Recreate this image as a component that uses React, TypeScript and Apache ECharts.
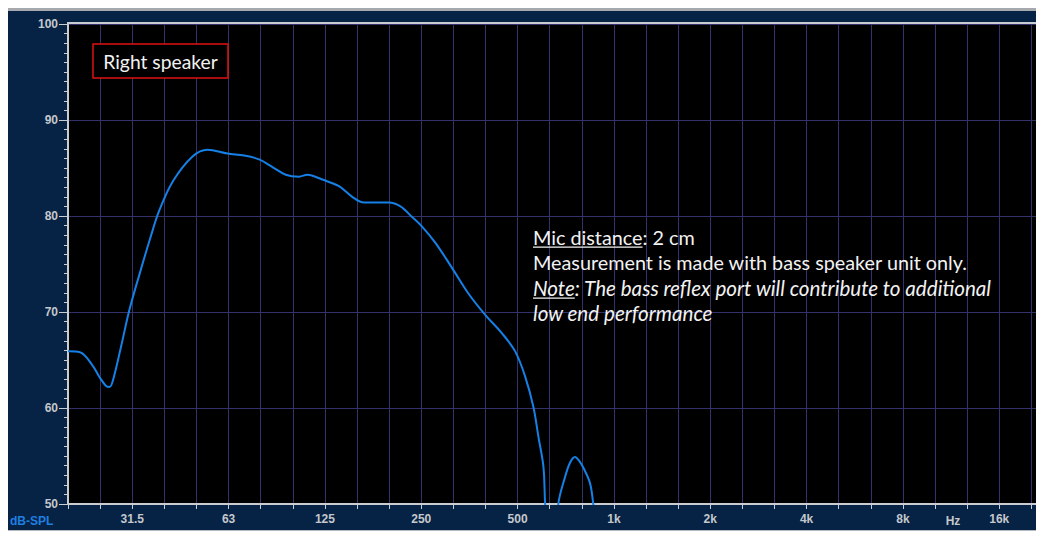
import React, { useEffect, useRef } from "react";
import * as echarts from "echarts";

// Measured frequency response (near-field, bass unit)
const freqHz = [
  20, 21.8, 23.9, 25.1, 26.3, 27.0, 27.6, 29.3, 31.1, 33.5,
  36.0, 38.6, 42.5, 49.0, 54.6, 63.0, 71.1, 79.1, 87.1,
  95.8, 105.5, 111.9, 124.6, 140.5, 154.6, 168.1, 201.1, 218.7, 237.7,
  255.5, 281.3, 316.9, 357.1, 402.5, 453.5, 499.3, 536.3, 569.3, 590.2,
  611.8, 619.2, 634, 657, 666.8, 681, 714.6, 740.8, 767.9, 791.7,
  815, 855, 875.6, 894.6,
];
const splDb = [
  65.9, 65.8, 64.4, 63.2, 62.3, 62.2, 62.8, 66.4, 70.2, 74.0,
  77.5, 80.6, 83.6, 86.2, 86.9, 86.5, 86.3, 85.9, 85.1,
  84.3, 84.1, 84.3, 83.8, 83.1, 82.0, 81.4, 81.4, 81.0, 79.9,
  78.9, 77.2, 74.6, 71.9, 69.7, 67.8, 65.9, 63.3, 60.1, 57.0,
  53.9, 50.1, 45, 40, 44, 50.0, 52.8, 54.3, 54.9, 54.5,
  53.8, 52.2, 50.0, 47,
];

// Octave-band labels, starting at the 31.5 Hz third-octave line
const xTickLabels = ["31.5", "63", "125", "250", "500", "1k", "2k", "4k", "8k", "16k"];
const yMin = 50;
const yMax = 100;
const yStep = 10;
const unitX = "Hz";
const unitY = "dB-SPL";
const speakerName = "Right speaker";
const micLabel = "Mic distance";
const micValue = ": 2 cm";
const infoLine = "Measurement is made with bass speaker unit only.";
const noteLabel = "Note";
const noteRest = ": The bass reflex port will contribute to additional";
const noteLine2 = "low end performance";

const F_REF = 20; // left edge of the frequency axis
const X_MAX_OCT = 10.1;
const toOct = (f: number) => Math.log2(f / F_REF);

const measure = (text: string, font: string) => {
  const ctx = document.createElement("canvas").getContext("2d")!;
  ctx.font = font;
  return ctx.measureText(text).width;
};

export default function App() {
  const ref = useRef<HTMLDivElement>(null);

  useEffect(() => {
    document.body.style.overflow = "hidden";
    const chart = echarts.init(ref.current!, null, { renderer: "svg" });

    const axisGray = "#c9ccd0";
    const gridColor = "#34326a";
    const labelColor = "#c4c8cc";
    const textColor = "#f2f2f2";
    const fam = "Lato";
    const fontN = `19.8px ${fam}`;
    const fontI = `italic 20.6px ${fam}`;
    const micW = measure(micLabel, fontN);
    const noteW = measure(noteLabel, fontI);

    const tx = 525;
    const lineY = [229, 254, 280, 305];

    const textEl = (x: number, y: number, text: string, font: string, align = "left") => ({
      type: "text",
      x,
      y,
      z: 10,
      style: {
        text,
        fill: textColor,
        font,
        align,
        textAlign: align,
        verticalAlign: "middle",
        textVerticalAlign: "middle",
      },
    });

    const option: any = {
      animation: false,
      backgroundColor: "#062244",
      grid: {
        left: 60,
        top: 16,
        right: 0,
        bottom: 27,
        show: true,
        backgroundColor: "#000000",
        borderWidth: 0,
      },
      xAxis: {
        type: "value",
        min: 0,
        max: X_MAX_OCT,
        interval: 1 / 3,
        axisLine: { show: true, lineStyle: { color: axisGray, width: 2 } },
        axisTick: { show: true, length: 5, lineStyle: { color: axisGray, width: 1 } },
        axisLabel: {
          color: labelColor,
          fontFamily: "Liberation Sans",
          fontWeight: "bold",
          fontSize: 12,
          margin: 9,
          formatter: (v: number) => {
            const k = Math.round(v * 3);
            if (Math.abs(v * 3 - k) > 1e-6) return "";
            const i = (k - 2) / 3;
            return Number.isInteger(i) && i >= 0 && i < xTickLabels.length ? xTickLabels[i] : "";
          },
        },
        splitLine: { show: true, lineStyle: { color: gridColor, width: 1 } },
      },
      yAxis: {
        type: "value",
        min: yMin,
        max: yMax,
        interval: yStep,
        axisLine: { show: true, lineStyle: { color: axisGray, width: 2 } },
        axisTick: { show: true, length: 9, lineStyle: { color: axisGray, width: 1 } },
        minorTick: { show: true, splitNumber: 10, length: 4, lineStyle: { color: axisGray, width: 1 } },
        axisLabel: {
          color: labelColor,
          fontFamily: "Liberation Sans",
          fontWeight: "bold",
          fontSize: 12,
          margin: 10,
        },
        splitLine: { show: true, lineStyle: { color: gridColor, width: 1 } },
      },
      series: [
        {
          type: "line",
          data: freqHz.map((f, i) => [toOct(f), splDb[i]]),
          smooth: 0.35,
          showSymbol: false,
          clip: true,
          z: 5,
          lineStyle: { color: "#1580e6", width: 2 },
        },
      ],
      graphic: [
        // outer frame lines
        { type: "rect", shape: { x: 0, y: 0, width: 1036, height: 3 }, style: { fill: "#a6aaae" }, silent: true },
        { type: "rect", shape: { x: 0, y: 522, width: 1036, height: 1 }, style: { fill: "#b5b8bb" }, silent: true },
        { type: "rect", shape: { x: 59, y: 14, width: 977, height: 2 }, style: { fill: axisGray }, silent: true, z: 3 },
        // speaker name box
        {
          type: "rect",
          shape: { x: 85, y: 36, width: 135, height: 34 },
          style: { fill: "#000000", stroke: "#e01010", lineWidth: 1.5 },
          z: 9,
        },
        textEl(152.5, 53, speakerName, `19.3px ${fam}`, "center"),
        // measurement notes
        textEl(tx, lineY[0], micLabel, fontN),
        textEl(tx + micW, lineY[0], micValue, fontN),
        { type: "rect", shape: { x: tx, y: lineY[0] + 9.5, width: micW, height: 1.3 }, style: { fill: textColor }, z: 10 },
        textEl(tx, lineY[1], infoLine, fontN),
        textEl(tx, lineY[2], noteLabel, fontI),
        textEl(tx + noteW, lineY[2], noteRest, fontI),
        { type: "rect", shape: { x: tx, y: lineY[2] + 9.5, width: noteW, height: 1.3 }, style: { fill: textColor }, z: 10 },
        textEl(tx, lineY[3], noteLine2, fontI),
        // axis unit labels
        {
          type: "text",
          x: 945,
          y: 513,
          style: {
            text: unitX,
            fill: labelColor,
            font: "bold 12px 'Liberation Sans'",
            align: "center",
            textAlign: "center",
            verticalAlign: "middle",
            textVerticalAlign: "middle",
          },
        },
        {
          type: "text",
          x: 2,
          y: 513,
          style: {
            text: unitY,
            fill: "#1f7fe0",
            font: "bold 12px 'Liberation Sans'",
            align: "left",
            textAlign: "left",
            verticalAlign: "middle",
            textVerticalAlign: "middle",
          },
        },
      ],
    };

    chart.setOption(option);
    return () => chart.dispose();
  }, []);

  return <div ref={ref} style={{ width: 1036, height: 523 }} />;
}
